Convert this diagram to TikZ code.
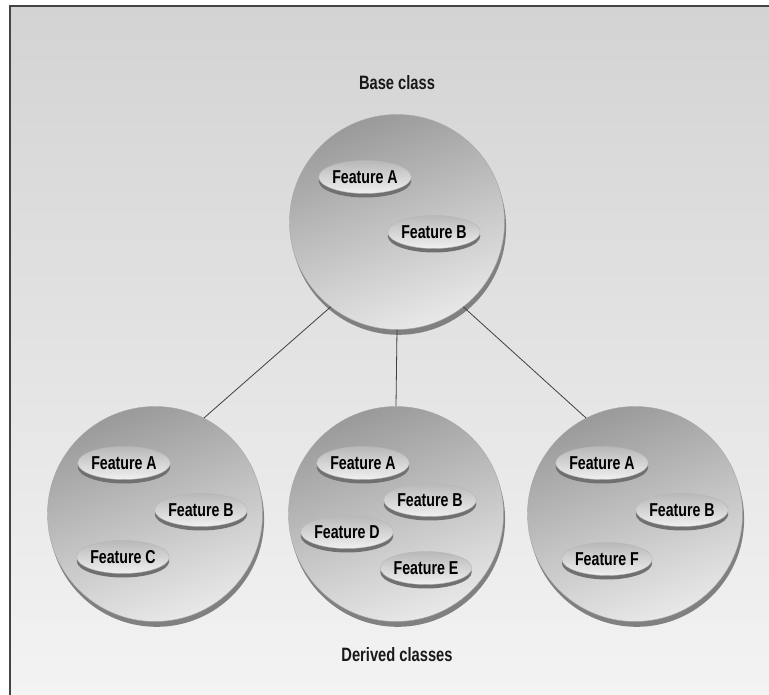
\documentclass[tikz,border=0pt]{standalone}
\usepackage{fontspec}
\setmainfont{Liberation Sans}[FakeStretch=0.76]
\usetikzlibrary{shapes.geometric,shadows}
\definecolor{frameline}{HTML}{444444}
\definecolor{bgtop}{HTML}{D3D3D3}
\definecolor{bgbot}{HTML}{F3F3F3}
\definecolor{disktop}{HTML}{9A9A9A}
\definecolor{diskbot}{HTML}{E8E8E8}
\definecolor{diskrim}{HTML}{808080}
\definecolor{feattop}{HTML}{B8B8B8}
\definecolor{featbot}{HTML}{F0F0F0}
\definecolor{featrim}{HTML}{707070}
\tikzset{
  disk/.style={circle, minimum size=215*0.75pt, inner sep=0pt,
    top color=disktop, bottom color=diskbot, shading angle=20,
    draw=diskrim!70, line width=0.3pt,
    general shadow={fill=diskrim, shadow xshift=1.2pt, shadow yshift=-4pt}},
  feat/.style={ellipse, minimum width=90*0.75pt, minimum height=33*0.75pt, inner sep=0pt,
    top color=feattop, bottom color=featbot, shading angle=0,
    draw=featrim!50, line width=0.3pt,
    general shadow={fill=featrim, shadow yshift=-3pt},
    font=\bfseries\fontsize{14}{15}\selectfont, text=black},
  lab/.style={font=\bfseries\fontsize{14.5}{15}\selectfont, text=black!90},
  link/.style={draw=black!75, line width=0.6pt}
}
\begin{document}
\begin{tikzpicture}[x=0.75pt,y=-0.75pt]
\useasboundingbox (0,0) rectangle (769,695);
\fill[white] (0,0) rectangle (769,695);
\shade[top color=bgtop, bottom color=bgbot] (10,6) rectangle (769,695);
\draw[frameline, line width=1.2pt] (10,695) -- (10,6) -- (769,6);

\node[lab] (basel) at (397,83) {Base class};
\node[lab] (derl) at (397,655) {Derived classes};

\node[disk] (base) at (397,222) {};
\node[disk] (left) at (155,514) {};
\node[disk] (mid) at (396,514) {};
\node[disk] (right) at (635,514) {};

\draw[link] (base.-128) -- (left.63);
\draw[link] (base.south) -- (mid.north);
\draw[link] (base.-52) -- (right.117);

\node[feat] (bA) at (365,177) {Feature A};
\node[feat] (bB) at (434,232) {Feature B};

\node[feat] (lA) at (124,463) {Feature A};
\node[feat] (lB) at (201,510) {Feature B};
\node[feat] (lC) at (123,557) {Feature C};

\node[feat] (mA) at (363,463) {Feature A};
\node[feat] (mB) at (430,500) {Feature B};
\node[feat] (mD) at (347,532) {Feature D};
\node[feat] (mE) at (426,568) {Feature E};

\node[feat] (rA) at (602,463) {Feature A};
\node[feat] (rB) at (682,510) {Feature B};
\node[feat] (rF) at (607,559) {Feature F};
\end{tikzpicture}
\end{document}
